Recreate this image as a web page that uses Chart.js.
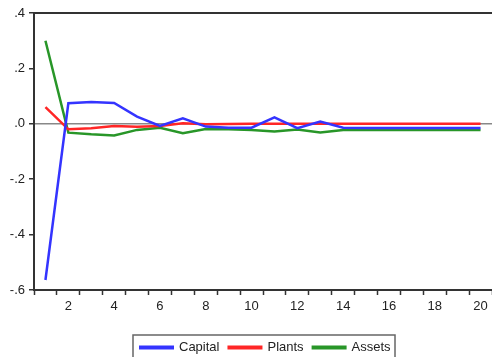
<!DOCTYPE html>
<html>
<head>
<meta charset="utf-8">
<script src="https://cdn.jsdelivr.net/npm/chart.js@4"></script>
<style>
  html, body { margin: 0; padding: 0; background: #fff; }
  #wrap { width: 492px; height: 357px; position: relative; }
</style>
</head>
<body>
<div id="wrap"><canvas id="chart"></canvas></div>
<script>
// periods on the x axis
const periods = [1, 2, 3, 4, 5, 6, 7, 8, 9, 10, 11, 12, 13, 14, 15, 16, 17, 18, 19, 20];

// series
const capital = [-0.564, 0.074, 0.079, 0.075, 0.026, -0.008, 0.020, -0.010, -0.014, -0.014,
                 0.023, -0.016, 0.008, -0.014, -0.015, -0.015, -0.015, -0.015, -0.015, -0.015];
const plants  = [0.060, -0.020, -0.016, -0.008, -0.011, -0.008, 0.002, -0.002, -0.001, 0.000,
                 0.000, 0.000, 0.000, 0.000, 0.000, 0.000, 0.000, 0.000, 0.000, 0.000];
const assets  = [0.300, -0.032, -0.038, -0.042, -0.022, -0.014, -0.034, -0.019, -0.020, -0.022,
                 -0.028, -0.021, -0.031, -0.022, -0.022, -0.022, -0.022, -0.022, -0.022, -0.022];

const yTicks = [0.4, 0.2, 0.0, -0.2, -0.4, -0.6];
const yTickLabels = ['.4', '.2', '.0', '-.2', '-.4', '-.6'];

const seriesNames = ['Capital', 'Plants', 'Assets'];
const seriesColors = ['rgb(52, 52, 255)', 'rgb(255, 38, 38)', 'rgb(40, 150, 40)'];

const axisColor = '#333';
const fontFamily = '"Liberation Sans", Arial, sans-serif';

// top frame line + boxed legend like the EViews output
const framePlugin = {
    id: 'frame',
    afterDraw(chart) {
        const ctx = chart.ctx;
        const area = chart.chartArea;
        ctx.save();
        ctx.strokeStyle = axisColor;
        ctx.lineWidth = 2;
        ctx.beginPath();
        ctx.moveTo(area.left, area.top);
        ctx.lineTo(chart.width, area.top);
        ctx.stroke();

        // legend box
        const boxLeft = 133, boxTop = 335, boxRight = 395;
        ctx.strokeStyle = '#666';
        ctx.lineWidth = 1.5;
        ctx.strokeRect(boxLeft, boxTop, boxRight - boxLeft, 40);

        ctx.font = '13px ' + fontFamily;
        ctx.textBaseline = 'middle';
        let x = boxLeft + 6;
        const y = 347.5;
        chart.data.datasets.forEach(ds => {
            ctx.fillStyle = ds.borderColor;
            ctx.fillRect(x, y - 2, 35, 4);
            ctx.fillStyle = '#222';
            ctx.fillText(ds.label, x + 40, y);
            x += 40 + ctx.measureText(ds.label).width + 8;
        });
        ctx.restore();
    }
};

const ctx = document.getElementById('chart').getContext('2d');

new Chart(ctx, {
    type: 'line',
    data: {
        labels: periods,
        datasets: [capital, plants, assets].map((vals, i) => ({
            label: seriesNames[i],
            data: vals,
            borderColor: seriesColors[i],
            backgroundColor: seriesColors[i],
            borderWidth: 2.5,
            pointRadius: 0,
            fill: false,
            tension: 0
        }))
    },
    options: {
        responsive: true,
        maintainAspectRatio: false,
        animation: false,
        layout: { padding: { top: 13, left: 0, right: 0, bottom: 0 } },
        plugins: {
            legend: { display: false },
            tooltip: { enabled: false }
        },
        scales: {
            x: {
                type: 'category',
                offset: true,
                grid: {
                    offset: true,
                    drawOnChartArea: false,
                    drawTicks: true,
                    tickLength: 5,
                    tickColor: axisColor,
                    tickWidth: 1.5
                },
                border: { display: true, color: axisColor, width: 2 },
                ticks: {
                    autoSkip: false,
                    maxRotation: 0,
                    padding: 4,
                    color: '#222',
                    font: { family: fontFamily, size: 13 },
                    callback: function(value, index) {
                        return (periods[index] % 2 === 0) ? String(periods[index]) : '';
                    }
                },
                afterFit: scale => { scale.height = 67; }
            },
            y: {
                min: -0.6,
                max: 0.4,
                afterBuildTicks: scale => {
                    scale.ticks = yTicks.map(v => ({ value: v }));
                },
                grid: {
                    drawTicks: true,
                    tickLength: 5,
                    tickColor: axisColor,
                    tickWidth: 1.5,
                    color: c => (c.tick && Math.abs(c.tick.value) < 1e-9) ? '#888' : 'rgba(0,0,0,0)',
                    lineWidth: 1.5
                },
                border: { display: true, color: axisColor, width: 2 },
                ticks: {
                    padding: 4,
                    color: '#222',
                    font: { family: fontFamily, size: 13 },
                    callback: function(value) {
                        const i = yTicks.findIndex(t => Math.abs(t - value) < 1e-9);
                        return i >= 0 ? yTickLabels[i] : '';
                    }
                },
                afterFit: scale => { scale.width = 34; }
            }
        }
    },
    plugins: [framePlugin]
});
</script>
</body>
</html>
